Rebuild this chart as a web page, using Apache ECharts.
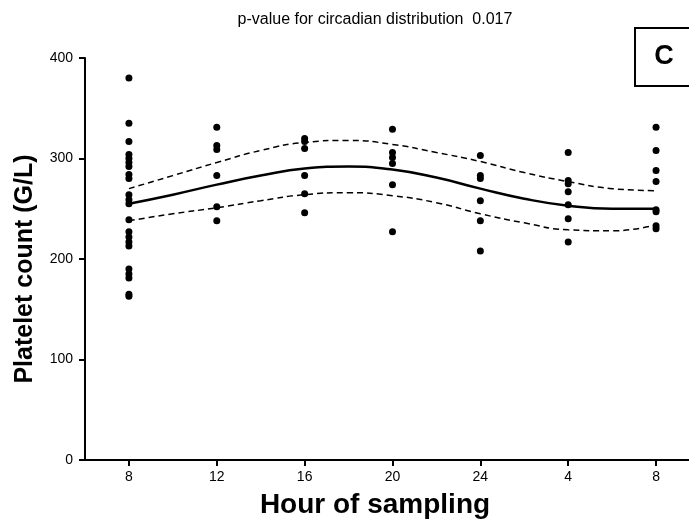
<!DOCTYPE html>
<html>
<head>
<meta charset="utf-8">
<script src="https://cdn.jsdelivr.net/npm/echarts@6/dist/echarts.min.js"></script>
<style>
html,body{margin:0;padding:0;background:#fff;}
#chart{width:689px;height:524px;}
</style>
</head>
<body>
<div id="chart"></div>
<script>
// Tick positions (hours since start, 8 = 08:00 day 1, 32 = 08:00 day 2) and labels
const tickHours = [8, 12, 16, 20, 24, 28, 32];
const tickLabels = ['8', '12', '16', '20', '24', '4', '8'];
const yTicks = [0, 100, 200, 300, 400];

// Individual platelet counts (G/L) per sampling time
const h08 = [380, 335, 317, 304, 300, 296, 292, 284, 280, 264, 259, 255, 239, 227, 222, 217, 213, 190, 185, 181, 165, 163];
const h12 = [331, 313, 309, 283, 252, 238];
const h16 = [320, 317, 310, 283, 265, 246];
const h20 = [329, 306, 301, 295, 274, 227];
const h24 = [303, 283, 280, 258, 238, 208];
const h28 = [306, 278, 275, 267, 254, 240, 217];
const h32 = [331, 308, 288, 277, 249, 247, 233, 230];

// Fitted cosinor curve and its confidence band
const curveHours = [8, 10, 12, 14, 16, 18, 20, 22, 24, 26, 28, 30, 32];
const fitMean  = [255, 264, 274, 283, 290, 292, 289, 281, 270, 260, 253, 250, 250];
const fitUpper = [270, 283, 296, 308, 316, 318, 314, 306, 297, 286, 277, 270, 268];
const fitLower = [238, 245, 251, 258, 264, 266, 263, 256, 245, 236, 229, 228, 234];

const columns = [[8, h08], [12, h12], [16, h16], [20, h20], [24, h24], [28, h28], [32, h32]];
const points = [];
columns.forEach(([h, arr]) => arr.forEach(v => points.push([h, v])));
const zip = arr => curveHours.map((h, i) => [h, arr[i]]);

const FONT = '"Liberation Sans", Arial, sans-serif';
const chart = echarts.init(document.getElementById('chart'), null, {renderer: 'canvas'});
chart.setOption({
  animation: false,
  backgroundColor: '#fff',
  grid: {left: 85, right: 0, top: 58, bottom: 64, containLabel: false},
  xAxis: {
    type: 'value', min: 6, max: 33.5,
    splitLine: {show: false},
    axisLine: {show: true, onZero: false, lineStyle: {color: '#000', width: 2}},
    axisTick: {show: true, customValues: tickHours, length: 6, lineStyle: {color: '#000', width: 2}},
    axisLabel: {
      customValues: tickHours, margin: 10, color: '#000', fontSize: 14, fontFamily: FONT,
      formatter: v => tickLabels[tickHours.indexOf(v)]
    }
  },
  yAxis: {
    type: 'value', min: 0, max: 400, interval: 100,
    splitLine: {show: false},
    axisLine: {show: true, lineStyle: {color: '#000', width: 2}},
    axisTick: {show: true, length: 6, lineStyle: {color: '#000', width: 2}},
    axisLabel: {margin: 12, color: '#000', fontSize: 14, fontFamily: FONT,
      formatter: v => yTicks.includes(v) ? String(v) : ''}
  },
  series: [
    {type: 'scatter', data: points, symbol: 'circle', symbolSize: 7,
     itemStyle: {color: '#000', opacity: 1}, z: 5},
    {type: 'line', data: zip(fitMean), smooth: 0.5, showSymbol: false,
     lineStyle: {color: '#000', width: 2.5}, z: 4},
    {type: 'line', data: zip(fitUpper), smooth: 0.5, showSymbol: false,
     lineStyle: {color: '#000', width: 1.5, type: [6, 4]}, z: 4},
    {type: 'line', data: zip(fitLower), smooth: 0.5, showSymbol: false,
     lineStyle: {color: '#000', width: 1.5, type: [6, 4]}, z: 4}
  ],
  graphic: [
    {type: 'text',
     style: {text: 'p-value for circadian distribution  0.017', font: '16px ' + FONT, fill: '#000', x: 375, y: 20, align: 'center', verticalAlign: 'middle'}},
    {type: 'text', style: {text: 'Hour of sampling', font: 'bold 28px ' + FONT, fill: '#000', x: 375, y: 505, align: 'center', verticalAlign: 'middle'}},
    {type: 'text', rotation: Math.PI / 2, x: 25, y: 269,
     style: {text: 'Platelet count (G/L)', font: 'bold 25px ' + FONT, fill: '#000', x: 0, y: 0, align: 'center', verticalAlign: 'middle'}},
    {type: 'rect', shape: {x: 635, y: 28, width: 60, height: 58},
     style: {fill: 'none', stroke: '#000', lineWidth: 2}},
    {type: 'text', style: {text: 'C', font: 'bold 27px ' + FONT, fill: '#000', x: 664, y: 57, align: 'center', verticalAlign: 'middle'}}
  ]
});
</script>
</body>
</html>
